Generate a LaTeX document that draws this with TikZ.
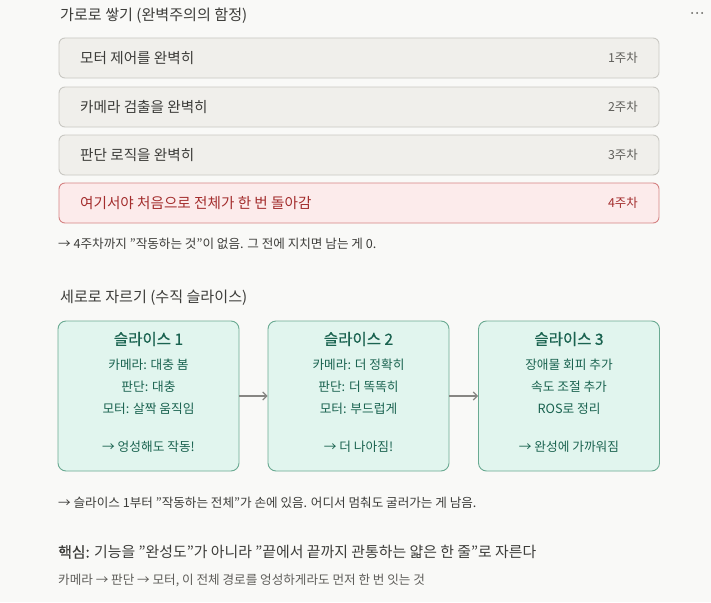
\documentclass[tikz,border=0pt]{standalone}
\usepackage{fontspec}
\setmainfont{Noto Sans CJK KR}
\newfontfamily\semibold[FakeBold=0.6]{Noto Sans CJK KR}
\usepackage{tikz}
\usetikzlibrary{shapes, arrows.meta, positioning}
\definecolor{pagebg}{HTML}{F9F9F7}
\definecolor{grayfill}{HTML}{F0EFEB}
\definecolor{grayline}{HTML}{C9C8C3}
\definecolor{grayink}{HTML}{3D3D3A}
\definecolor{softink}{HTML}{5F5E5A}
\definecolor{redfill}{HTML}{FCEBEB}
\definecolor{redline}{HTML}{D58383}
\definecolor{redink}{HTML}{A32D2D}
\definecolor{mintfill}{HTML}{E1F5EE}
\definecolor{mintline}{HTML}{6AAA92}
\definecolor{mintink}{HTML}{1A6350}

\begin{document}
\begin{tikzpicture}
  [
    x=1pt, y=-1pt,
    Step/.style={rectangle, rounded corners=6pt, draw=grayline, fill=grayfill, line width=0.9pt, minimum width=600pt, minimum height=40pt},
    Trap/.style={rectangle, rounded corners=6pt, draw=redline, fill=redfill, line width=0.9pt, minimum width=600pt, minimum height=40pt},
    Slice/.style={rectangle, rounded corners=8pt, draw=mintline, fill=mintfill, line width=0.9pt, minimum width=181pt, minimum height=150pt},
    Head/.style={anchor=west, inner sep=0pt, text=grayink, font=\fontsize{15.1}{17}\selectfont},
    Label/.style={anchor=west, inner sep=0pt, text=grayink, font=\fontsize{14.6}{17}\selectfont},
    Week/.style={anchor=east, inner sep=0pt, text=softink, font=\fontsize{12.4}{14}\selectfont},
    Note/.style={anchor=west, inner sep=0pt, text=grayink, font=\fontsize{12.6}{15}\selectfont},
    Line/.style={inner sep=0pt, text=mintink, font=\fontsize{12.7}{15}\selectfont},
    Title/.style={inner sep=0pt, text=mintink, font=\fontsize{15.5}{18}\selectfont\semibold}
  ]
  \useasboundingbox[fill=pagebg] (0,0) rectangle (711,602);
  % Nodes
  \node[Head] (h1) at(60, 16) {가로로 쌓기 (완벽주의의 함정)};
  \foreach \i/\y/\txt in {1/58/모터 제어를 완벽히, 2/107/카메라 검출을 완벽히, 3/155/판단 로직을 완벽히} {
    \node[Step] (w\i) at(359, \y) {};
    \node[Label] (w\i t) at(80, \y) {\txt};
    \node[Week] (w\i n) at(638, \y) {\i{}주차};
  }
  \node[Trap] (w4) at(359, 203) {};
  \node[Label, text=redink] (w4t) at(80, 203) {여기서야 처음으로 전체가 한 번 돌아감};
  \node[Week, text=redink] (w4n) at(638, 203) {4주차};
  \node[Note] (n1) at(58, 244) {→ 4주차까지 "작동하는 것"이 없음. 그 전에 지치면 남는 게 0.};

  \node[Head] (h2) at(60, 298) {세로로 자르기 (수직 슬라이스)};
  \node[Slice] (s1) at(148.5, 396) {};
  \node[Slice] (s2) at(358.5, 396) {};
  \node[Slice] (s3) at(569, 396) {};
  \node[Title] (s1h) at(148.5, 339) {슬라이스 1};
  \node[Line] (s1a) at(148.5, 365) {카메라: 대충 봄};
  \node[Line] (s1b) at(148.5, 387) {판단: 대충};
  \node[Line] (s1c) at(148.5, 409) {모터: 살짝 움직임};
  \node[Line] (s1d) at(148.5, 447) {→ 엉성해도 작동!};
  \node[Title] (s2h) at(358.5, 339) {슬라이스 2};
  \node[Line] (s2a) at(358.5, 365) {카메라: 더 정확히};
  \node[Line] (s2b) at(358.5, 387) {판단: 더 똑똑히};
  \node[Line] (s2c) at(358.5, 409) {모터: 부드럽게};
  \node[Line] (s2d) at(358.5, 447) {→ 더 나아짐!};
  \node[Title] (s3h) at(569, 339) {슬라이스 3};
  \node[Line] (s3a) at(569, 365) {장애물 회피 추가};
  \node[Line] (s3b) at(569, 387) {속도 조절 추가};
  \node[Line] (s3c) at(569, 409) {ROS로 정리};
  \node[Line] (s3d) at(569, 447) {→ 완성에 가까워짐};
  \node[Note] (n2) at(58, 503) {→ 슬라이스 1부터 "작동하는 전체"가 손에 있음. 어디서 멈춰도 굴러가는 게 남음.};

  \node[Head, font=\fontsize{14.9}{17}\selectfont] (k1) at(58, 552) {{\semibold 핵심:} 기능을 "완성도"가 아니라 "끝에서 끝까지 관통하는 얇은 한 줄"로 자른다};
  \node[Note, text=softink] (k2) at(58, 580) {카메라 → 판단 → 모터, 이 전체 경로를 엉성하게라도 먼저 한 번 잇는 것};

  \foreach \x in {692, 697, 702} \fill[softink] (\x, 13) circle (1pt);
  % Lines
  \path [-{Straight Barb[length=4pt, width=8pt]}, draw, softink!75, line width=1.2pt] (s1) -- (s2);
  \path [-{Straight Barb[length=4pt, width=8pt]}, draw, softink!75, line width=1.2pt] (s2) -- (s3);
\end{tikzpicture}
\end{document}
